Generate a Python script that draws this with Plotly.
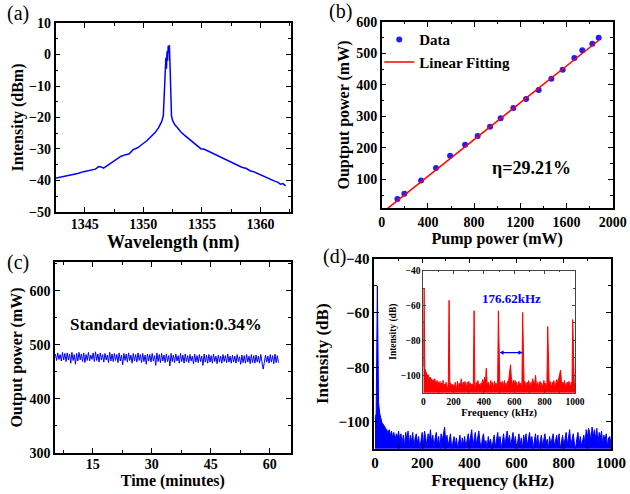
import plotly.graph_objects as go

# ---------------- data ----------------
# (a) optical spectrum
wl_nm = [1342.45, 1342.9, 1343.4, 1343.9, 1344.4, 1344.9, 1345.4, 1345.9, 1346.2, 1346.4,
         1346.6, 1346.9, 1347.3, 1347.7, 1348.1, 1348.5, 1348.8, 1349.1, 1349.5, 1349.9,
         1350.3, 1350.7, 1351.0, 1351.3, 1351.55, 1351.7, 1351.78, 1351.86, 1351.92, 1351.97,
         1352.02, 1352.07, 1352.12, 1352.17, 1352.22, 1352.27, 1352.33, 1352.40, 1352.5, 1352.7,
         1352.9, 1353.2, 1353.5, 1353.8, 1354.1, 1354.5, 1354.9, 1355.2, 1355.6, 1356.0,
         1356.5, 1357.0, 1357.4, 1357.7, 1358.0, 1358.4, 1358.8, 1359.1, 1359.4, 1359.8,
         1360.2, 1360.6, 1360.9, 1361.2, 1361.5, 1361.7, 1361.9, 1362.15]
intensity_dbm = [-39.3, -39.0, -38.6, -38.3, -37.8, -37.2, -36.9, -36.4, -35.6, -35.7,
                 -36.1, -35.3, -34.4, -33.4, -32.3, -31.8, -31.5, -30.3, -29.6, -28.5,
                 -27.4, -25.9, -24.8, -23.2, -21.4, -19.5, -14.0, -6.0, -1.0, -4.5,
                 1.0, -2.0, 2.8, 0.5, 3.0, -3.0, -12.0, -19.5, -21.0, -22.4,
                 -23.2, -24.6, -25.6, -26.5, -27.4, -28.8, -29.9, -30.1, -30.8, -31.6,
                 -32.5, -33.3, -33.9, -34.5, -34.9, -35.8, -36.2, -36.9, -37.2, -37.9,
                 -38.4, -39.3, -39.6, -40.2, -40.6, -41.2, -41.0, -41.7]

# (b) output power vs pump power
pump_mw = [136, 196, 341, 470, 592, 722, 831, 938, 1030, 1140,
           1250, 1359, 1469, 1567, 1668, 1737, 1824, 1879]
output_mw = [37.5, 54.5, 96.8, 136, 175, 210, 237.7, 267.4, 293.9, 326.7,
             355.3, 384, 420, 448.5, 485.6, 510, 531, 550]
fit_pump_mw = [52, 1880]
fit_output_mw = [8, 542]
efficiency_label = "η=29.21%"

# (c) power stability
t_start, t_step = 5.5, 0.3
stab_mw = [
    483, 471, 485, 473, 482, 470, 486, 472, 484, 469,
    485, 472, 483, 466, 486, 471, 482, 464, 484, 470,
    486, 472, 483, 469, 485, 467, 482, 471, 486, 470,
    481, 473, 485, 469, 487, 471, 483, 468, 485, 472,
    482, 468, 484, 472, 481, 467, 486, 470, 483, 469,
    484, 471, 482, 467, 485, 470, 481, 463, 484, 471,
    483, 468, 485, 471, 481, 466, 484, 470, 482, 468,
    485, 471, 482, 467, 484, 469, 481, 464, 483, 470,
    482, 468, 484, 470, 480, 462, 485, 469, 482, 467,
    484, 470, 481, 467, 483, 469, 480, 461, 484, 469,
    481, 467, 483, 470, 480, 466, 484, 469, 481, 466,
    483, 469, 480, 467, 482, 470, 479, 465, 483, 468,
    480, 467, 482, 469, 479, 462, 483, 468, 481, 466,
    482, 468, 480, 466, 483, 469, 479, 465, 481, 468,
    479, 466, 482, 469, 480, 467, 483, 468, 479, 466,
    481, 468, 479, 466, 482, 469, 478, 464, 481, 467,
    480, 466, 482, 468, 479, 465, 482, 467, 480, 466,
    481, 468, 479, 466, 482, 469, 455, 467, 481, 468,
    479, 466, 482, 468, 480, 465, 483, 467, 480, 467]
time_min = [t_start + i * t_step for i in range(len(stab_mw))]
stab_label = "Standard deviation:0.34%"

# (d) RF spectrum, 0-1000 kHz, 5 kHz steps
rf_db = [
    -99, -97, -50, -93, -97, -99, -100.5, -101, -102, -102.5,
    -103, -104.5, -103, -105, -103.5, -106, -104, -107, -104.5, -106,
    -103.5,
    -107, -104.5, -108, -105, -109, -104, -106.5, -103.5, -108.5, -105,
    -107.5, -104, -109.5, -106, -104.5, -108, -105.5, -110, -106, -104,
    -108.5, -103.5, -106, -109, -104.5, -107, -103, -108, -105, -109.5,
    -106, -104, -108.5, -105.5, -110, -104.5, -107, -105, -102, -108,
    -105, -109, -106.5, -104.5, -110, -107, -105.5, -109, -106, -110,
    -107.5, -105, -110, -106, -108.5, -105.5, -109.5, -106.5, -104.5, -108,
    -105.5, -103, -109, -106, -104, -108.5, -105, -103.5, -107.5, -110,
    -106, -104.5, -109, -107, -110, -105.5, -108, -106.5, -110, -107,
    -105, -109.5, -106.5, -104, -108, -105.5, -110, -106, -104.5, -108.5,
    -105, -103.5, -107.5, -105, -109, -106, -104, -108, -105.5, -110,
    -106.5, -104.5, -108.5, -106, -110, -105, -107.5, -104.5, -109, -106,
    -104, -108, -105.5, -110, -106.5, -104.5, -108.5, -105, -109.5, -107,
    -105, -109, -106, -104.5, -108, -106.5, -110, -105.5, -108.5, -106,
    -104.5, -109, -106.5, -105, -108.5, -104.5, -110, -107, -105, -109,
    -106, -104, -108.5, -105.5, -103, -109, -106, -104.5, -108, -110,
    -106.5, -104, -108.5, -105.5, -109, -107, -105, -108.5, -103, -106,
    -102.5, -104, -107, -102, -105.5, -103, -106.5, -102.5, -108, -104,
    -106, -103.5, -108.5, -105, -107, -104.5, -109, -106, -105.5, -108.5]
rf_khz = [5 * i for i in range(len(rf_db))]

# (d) inset RF spectrum, 0-1000 kHz, 5 kHz steps
inset_db = [
    -95, -50, -96, -97.5, -99, -100, -99.5, -101, -102, -101,
    -103, -102, -104, -102.5, -105, -102, -104, -106, -103, -105,
    -104, -106.5, -103.5, -107, -104.5, -106, -103, -108, -105, -107,
    -104, -106.5, -108, -105, -57, -106, -104.5, -107, -105, -108,
    -105.5, -107.5, -104, -106, -108, -103.5, -105, -107, -104.5, -106,
    -102, -105.5, -107, -104, -106.5, -103.5, -105, -107.5, -104, -106,
    -103.5, -106, -104.5, -108, -105, -106.5, -104, -63, -105.5, -107,
    -104, -106.5, -103, -107, -105, -108, -104.5, -106, -102.5, -105,
    -103, -101, -104.5, -96, -103.5, -106, -104, -107, -105.5, -103,
    -106, -104, -107.5, -105, -103.5, -106, -104.5, -107, -105, -63,
    -105, -107.5, -104, -106, -103.5, -107, -105, -103, -106.5, -104.5,
    -107, -103.5, -105, -101, -99, -94, -101, -104, -106.5, -103,
    -105.5, -103, -106.5, -104, -107, -105, -103.5, -106, -104.5, -107,
    -105, -64, -104, -106.5, -103.5, -107, -105, -104, -106, -103,
    -105.5, -107, -104, -106, -102, -103.5, -105, -104, -100, -105,
    -106.5, -104, -107, -105, -103.5, -106, -104.5, -107.5, -105, -103,
    -106, -104.5, -107, -105, -72, -104, -106.5, -103.5, -105, -107,
    -104, -106, -103, -105.5, -107, -104, -102.5, -105, -103, -101,
    -101, -97, -103, -105.5, -104, -106.5, -103, -105, -107, -104.5,
    -104, -106.5, -103.5, -105, -107, -104, -106, -68, -103, -104.5,
    -105]
inset_khz = [5 * i for i in range(len(inset_db))]
spacing_label = "176.62kHz"
spacing_khz = [492, 655]
spacing_db = -87

# ---------------- style ----------------
SERIF = "Liberation Serif"
BLUE = "#0000ff"
RED = "#ff0000"
FLOOR = -115

fig = go.Figure()

fig.add_trace(go.Scatter(x=wl_nm, y=intensity_dbm, mode="lines",
                         line=dict(color=BLUE, width=1.5), xaxis="x", yaxis="y",
                         showlegend=False))

fig.add_trace(go.Scatter(x=pump_mw, y=output_mw, mode="markers", name="Data",
                         marker=dict(color="#1f1fff", size=6), xaxis="x2", yaxis="y2"))
fig.add_trace(go.Scatter(x=fit_pump_mw, y=fit_output_mw, mode="lines", name="Linear Fitting",
                         line=dict(color=RED, width=1.5), xaxis="x2", yaxis="y2"))

fig.add_trace(go.Scatter(x=time_min, y=stab_mw, mode="lines",
                         line=dict(color=BLUE, width=1), xaxis="x3", yaxis="y3",
                         showlegend=False))

fig.add_trace(go.Scatter(x=[rf_khz[0], rf_khz[-1]], y=[FLOOR, FLOOR], mode="lines",
                         line=dict(width=0), xaxis="x4", yaxis="y4", showlegend=False,
                         hoverinfo="skip"))
fig.add_trace(go.Scatter(x=rf_khz, y=rf_db, mode="lines", fill="tonexty",
                         fillcolor=BLUE, line=dict(color=BLUE, width=1),
                         xaxis="x4", yaxis="y4", showlegend=False))

fig.add_trace(go.Scatter(x=[inset_khz[0], inset_khz[-1]], y=[FLOOR, FLOOR], mode="lines",
                         line=dict(width=0), xaxis="x5", yaxis="y5", showlegend=False,
                         hoverinfo="skip"))
fig.add_trace(go.Scatter(x=inset_khz, y=inset_db, mode="lines", fill="tonexty",
                         fillcolor=RED, line=dict(color=RED, width=1),
                         xaxis="x5", yaxis="y5", showlegend=False))


def ax(domain, rng, dtick, minor, anchor, title, tick0=0, tsize=16, ksize=14,
       standoff=4, lc="black", lw=1.5, tl=5, lab_off=0):
    return dict(domain=domain, range=rng, dtick=dtick, tick0=tick0, anchor=anchor,
                showline=True, mirror="ticks", linecolor=lc, linewidth=lw,
                ticks="inside", ticklen=tl, tickwidth=1.2, tickcolor=lc,
                ticklabelstandoff=lab_off,
                minor=dict(dtick=minor, ticks="inside", ticklen=tl * 0.55, tickwidth=1,
                           tickcolor=lc),
                showgrid=False, zeroline=False, automargin=False,
                tickfont=dict(family=SERIF, size=ksize, color="black", weight="bold"),
                title=dict(text=title, standoff=standoff,
                           font=dict(family=SERIF, size=tsize, color="black", weight="bold")))


def panel_label(text, x, y):
    return dict(text=text, x=x, y=y, xref="paper", yref="paper", showarrow=False,
                xanchor="center", yanchor="middle",
                font=dict(family=SERIF, size=20, color="black"))


layout = dict(
    width=630, height=494, margin=dict(l=0, r=0, t=0, b=0),
    paper_bgcolor="white", plot_bgcolor="white",
    font=dict(family=SERIF, color="black"),
    xaxis=ax([0.0881, 0.4619], [1342.5, 1362.6], 5, 2.5, "y", "Wavelength (nm)", tick0=1345,
             standoff=1, tsize=18, lab_off=-2),
    yaxis=ax([0.5709, 0.9534], [-50, 10], 10, 5, "x", "Intensity (dBm)", standoff=1),
    xaxis2=ax([0.6059, 0.9725], [0, 2000], 400, 200, "y2", "Pump power (mW)", standoff=2),
    yaxis2=ax([0.5789, 0.9555], [9, 600], 100, 50, "x2", "Ouptput power (mW)", standoff=3),
    xaxis3=ax([0.0873, 0.4614], [5.4, 65.3], 15, 7.5, "y3", "Time (minutes)", standoff=0,
              lab_off=-3),
    yaxis3=ax([0.0830, 0.4696], [300, 653], 100, 50, "x3", "Output power (mW)", standoff=3),
    xaxis4=ax([0.5941, 0.9698], [-3, 1000], 200, 100, "y4", "Frequency (kHz)", standoff=3, tsize=17, ksize=15),
    yaxis4=ax([0.0917, 0.4763], [-110, -40], 20, 10, "x4", "Intensity (dB)", standoff=6, tsize=17, ksize=15),
    xaxis5=ax([0.6719, 0.9127], [0, 1000], 200, 100, "y5", "Frequency (kHz)", standoff=1,
              tsize=10.5, ksize=9.5, lc="#444444", lw=1, tl=3),
    yaxis5=ax([0.2051, 0.4520], [-110, -40], 20, 10, "x5", "Intensity (dB)", standoff=2,
              tsize=9.5, ksize=9.5, lc="#444444", lw=1, tl=3),
    legend=dict(x=0.602, y=0.953, xanchor="left", yanchor="top", bgcolor="rgba(0,0,0,0)",
                font=dict(family=SERIF, size=15, color="black", weight="bold"),
                itemwidth=30, tracegroupgap=0, traceorder="normal"),
    annotations=[
        panel_label("(a)", 0.0286, 0.9717),
        panel_label("(b)", 0.5397, 0.9777),
        panel_label("(c)", 0.0286, 0.4696),
        panel_label("(d)", 0.5317, 0.4798),
        dict(text=efficiency_label, x=1299, y=135, xref="x2", yref="y2", showarrow=False,
             font=dict(family=SERIF, size=18, color="black", weight="bold")),
        dict(text=stab_label, x=33.5, y=538, xref="x3", yref="y3", showarrow=False,
             font=dict(family=SERIF, size=17, color="black", weight="bold")),
        dict(text=spacing_label, x=583, y=-56, xref="x5", yref="y5", showarrow=False,
             font=dict(family=SERIF, size=13, color=BLUE, weight="bold")),
        dict(text="", x=spacing_khz[1], y=spacing_db, ax=spacing_khz[0], ay=spacing_db,
             xref="x5", yref="y5", axref="x5", ayref="y5", showarrow=True,
             arrowhead=2, arrowside="end+start", arrowsize=0.7, arrowwidth=1.2,
             arrowcolor=BLUE, standoff=0, startstandoff=0),
    ],
)
fig.update_layout(**layout)
fig.write_html("out.html", config={"displayModeBar": False},
               post_script="document.body.style.margin='0px';")
